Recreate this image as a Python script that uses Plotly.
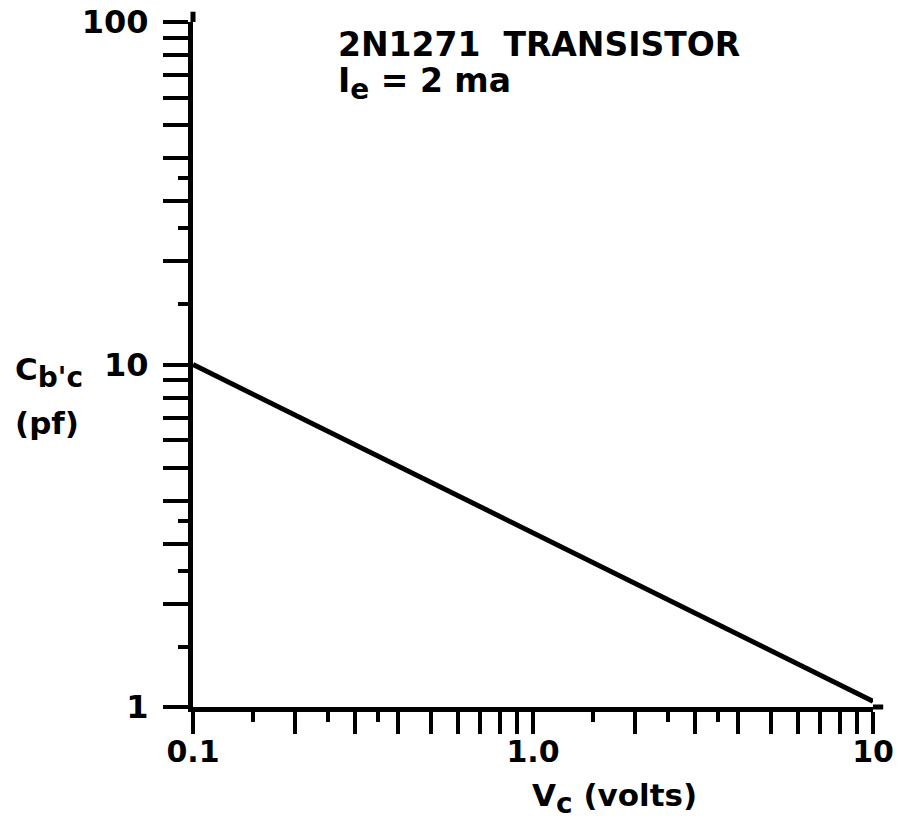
import plotly.graph_objects as go

# Data
vc = [0.1, 10]          # V_c (volts)
cbc = [10, 1.04]        # C_b'c (pf)

x_major = [0.1, 0.2, 0.3, 0.4, 0.5, 0.6, 0.7, 0.8, 0.9, 1, 2, 3, 4, 5, 6, 7, 8, 9, 10]
x_labels = {0.1: "0.1", 1: "1.0", 10: "10"}
x_minor = [0.15, 0.25, 0.35, 1.5, 2.5, 3.5]

y_major = [1, 2, 3, 4, 5, 6, 7, 8, 9, 10, 20, 30, 40, 50, 60, 70, 80, 90, 100]
y_labels = {1: "1", 10: "10", 100: "100"}
y_minor = [1.5, 2.5, 3.5, 15, 25, 35]

title_line1 = "2N1271  TRANSISTOR"
title_line2 = "I<sub><span style='font-size:28px'>e</span></sub> = 2 ma"
y_title_1 = "C<sub><span style='font-size:28px'>b'c</span></sub>"
y_title_2 = "(pf)"
x_title = "V<sub><span style='font-size:28px'>c</span></sub> (volts)"

FONT = "DejaVu Sans"

fig = go.Figure()
fig.add_trace(go.Scatter(x=vc, y=cbc, mode="lines",
                         line=dict(color="black", width=5),
                         showlegend=False, hoverinfo="skip"))

fig.update_xaxes(
    type="log", range=[-1, 1], automargin=False,
    showline=True, linecolor="black", linewidth=5,
    showgrid=False, zeroline=False,
    ticks="outside", ticklen=22, tickwidth=4, tickcolor="black",
    tickmode="array", tickvals=x_major,
    ticktext=[x_labels.get(v, "") for v in x_major],
    ticklabelstandoff=-8,
    tickfont=dict(family=FONT, size=30, color="black", weight="bold"),
    minor=dict(tickmode="array", tickvals=x_minor, ticks="outside",
               ticklen=10, tickwidth=4, tickcolor="black", showgrid=False),
)
fig.update_yaxes(
    type="log", range=[0, 2], automargin=False,
    showline=True, linecolor="black", linewidth=5,
    showgrid=False, zeroline=False,
    ticks="outside", ticklen=25, tickwidth=4, tickcolor="black",
    tickmode="array", tickvals=y_major,
    ticktext=[y_labels.get(v, "") for v in y_major],
    ticklabelstandoff=8,
    tickfont=dict(family=FONT, size=32, color="black", weight="bold"),
    minor=dict(tickmode="array", tickvals=y_minor, ticks="outside",
               ticklen=10, tickwidth=4, tickcolor="black", showgrid=False),
)

# slight extensions of the axis lines beyond 100 and 10
fig.add_shape(type="line", xref="paper", yref="paper", x0=0, x1=0, y0=1, y1=1.015,
              line=dict(color="black", width=5))
fig.add_shape(type="line", xref="paper", yref="paper", x0=1, x1=1.015, y0=0, y1=0,
              line=dict(color="black", width=5))

ann_font = dict(family=FONT, size=31, color="black", weight="bold")
title_font = dict(family=FONT, size=33, color="black", weight="bold")
fig.add_annotation(text=title_line1, xref="paper", yref="paper",
                   x=(336 - 193) / 680, y=1 - (44 - 22) / 685,
                   xanchor="left", yanchor="middle", showarrow=False, font=title_font)
fig.add_annotation(text=title_line2, xref="paper", yref="paper",
                   x=(336 - 193) / 680, y=1 - (84 - 22) / 685,
                   xanchor="left", yanchor="middle", showarrow=False, font=title_font)
fig.add_annotation(text=y_title_1, xref="paper", yref="paper",
                   x=(13 - 193) / 680, y=1 - (372 - 22) / 685,
                   xanchor="left", yanchor="middle", showarrow=False, font=ann_font)
fig.add_annotation(text=y_title_2, xref="paper", yref="paper",
                   x=(13 - 193) / 680, y=1 - (423 - 22) / 685,
                   xanchor="left", yanchor="middle", showarrow=False, font=ann_font)
fig.add_annotation(text=x_title, xref="paper", yref="paper",
                   x=(530 - 193) / 680, y=1 - (798 - 22) / 685,
                   xanchor="left", yanchor="middle", showarrow=False, font=ann_font)

fig.update_layout(
    width=903, height=823,
    margin=dict(l=193, r=30, t=22, b=116),
    paper_bgcolor="white", plot_bgcolor="white",
)

fig.write_html("out.html")
